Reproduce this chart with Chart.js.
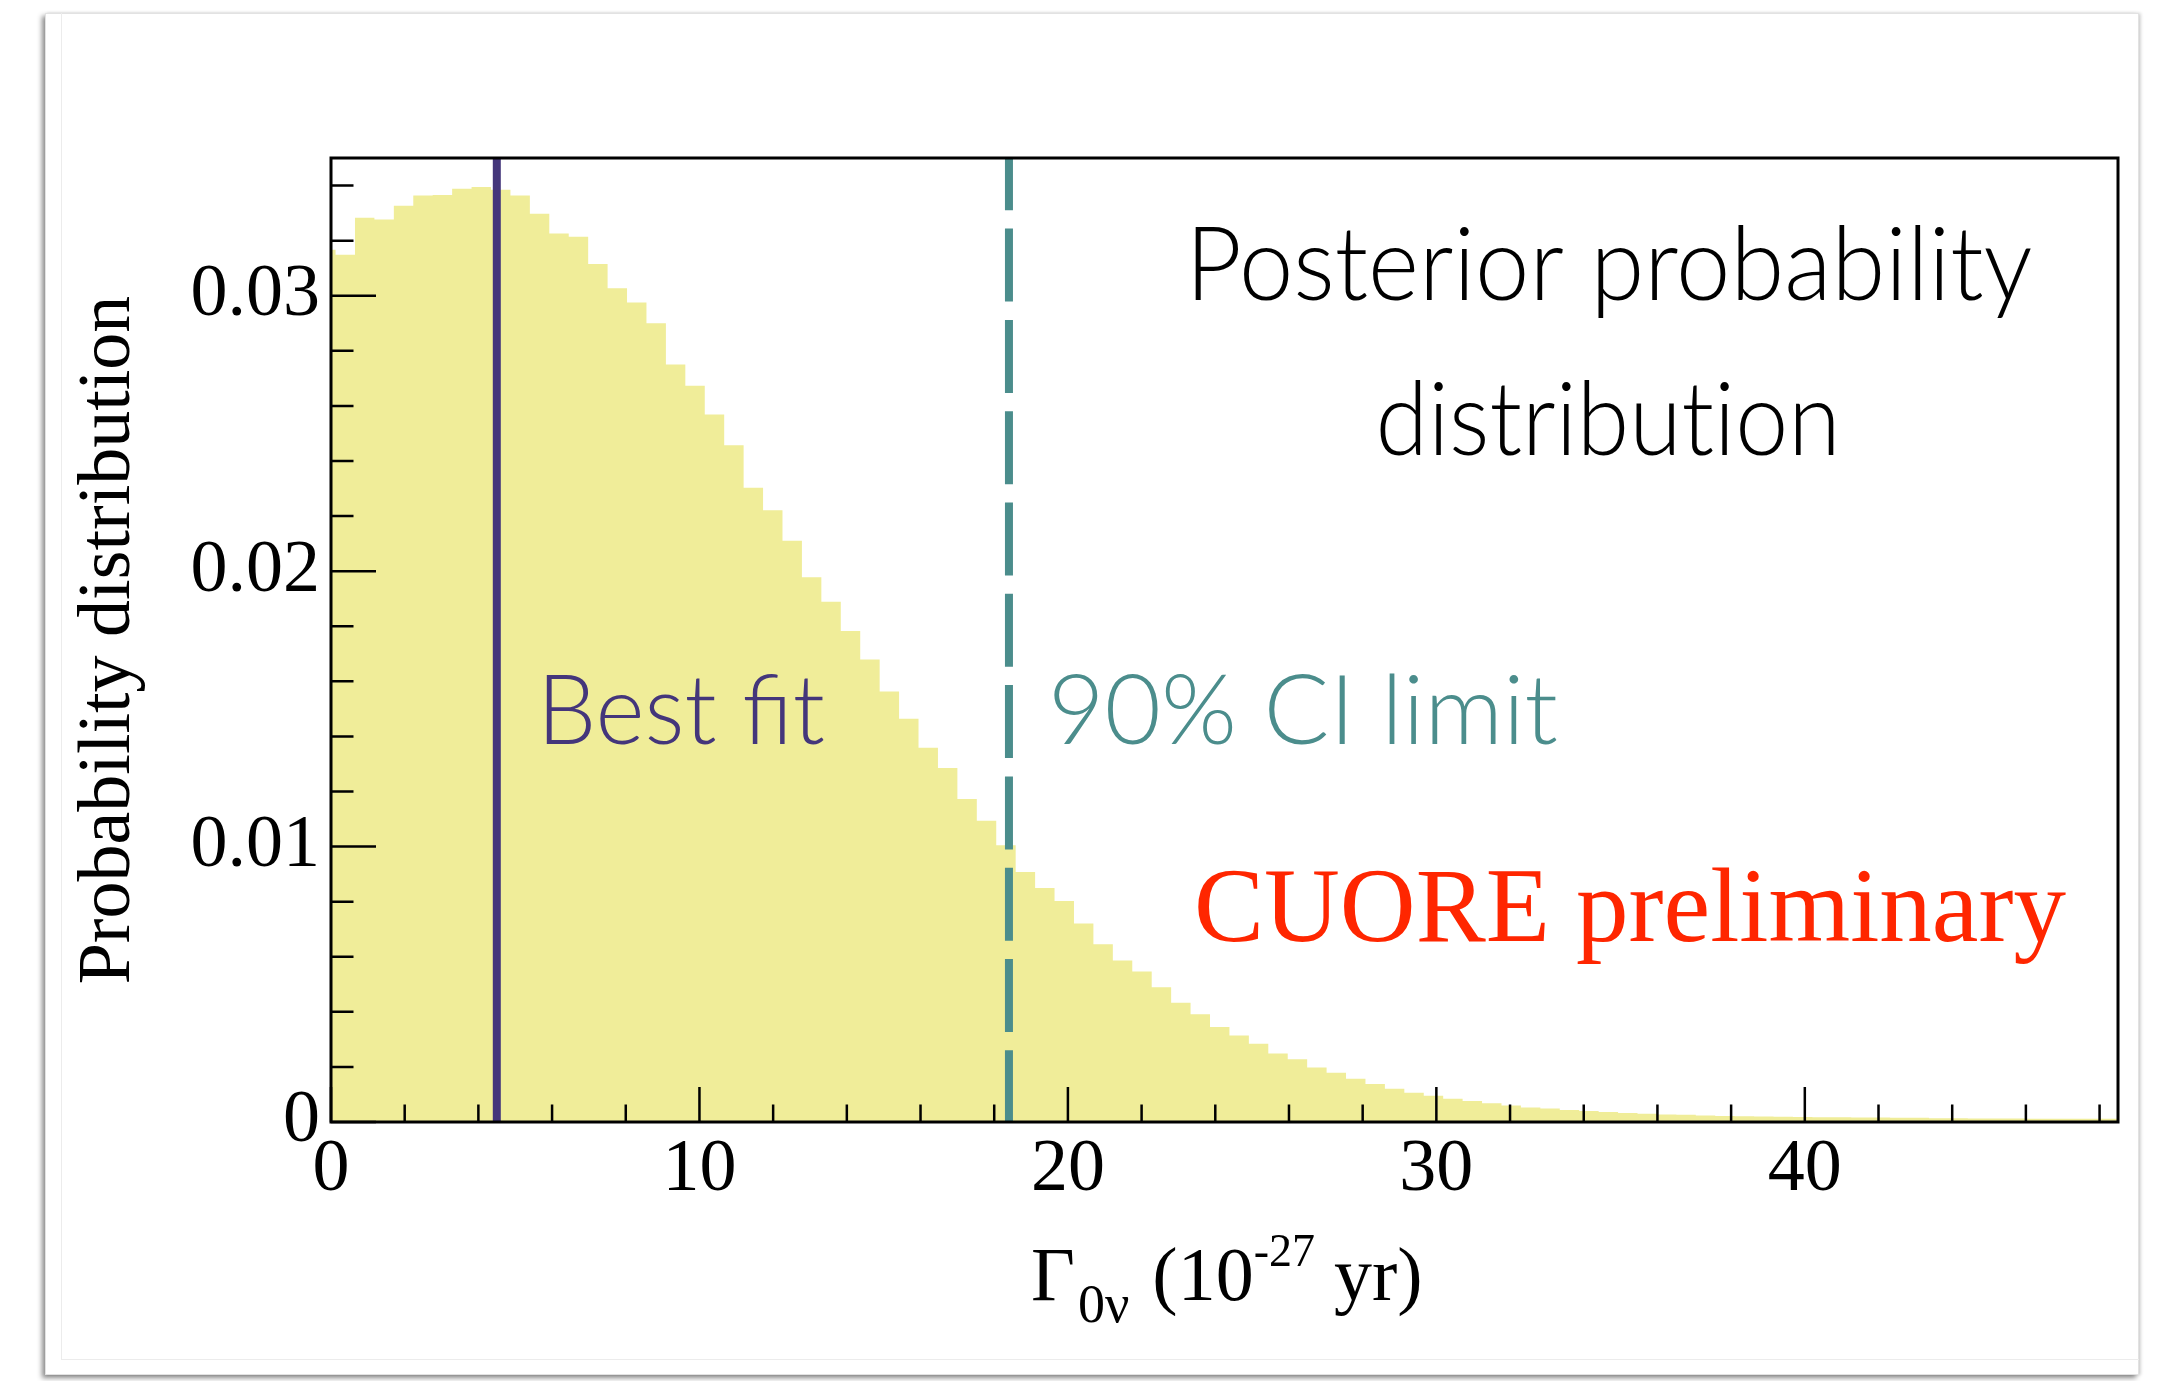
<!DOCTYPE html>
<html>
<head>
<meta charset="utf-8">
<script src="https://cdn.jsdelivr.net/npm/chart.js@4.4.1/dist/chart.umd.min.js"></script>
<style>
  html, body { margin: 0; padding: 0; background: #fff; }
  body { width: 2157px; height: 1381px; position: relative; overflow: hidden; }
  .card {
    position: absolute; left: 45px; top: 13px; width: 2094px; height: 1362px;
    background: #fff; border: 1px solid #e2e2e2; box-sizing: border-box;
    box-shadow: -3px 3px 5px rgba(0,0,0,0.45), 2px 0 3px rgba(0,0,0,0.15);
  }
  .inner {
    position: absolute; left: 61px; top: 13px; width: 2078px; height: 1347px;
    border-left: 1px solid #ececec; border-bottom: 1px solid #ececec; box-sizing: border-box;
  }
  canvas { position: absolute; left: 0; top: 0; }
</style>
</head>
<body>
<div class="card"></div>
<div class="inner"></div>
<canvas id="posteriorChart" width="2157" height="1381"></canvas>
<script>
// posterior of Gamma_0nu; the binning starts below zero so the first bin is cut by the axis
const BIN_START = -0.404;
const BIN_WIDTH = 0.5274;
const posterior = [
  0.03167, 0.03167, 0.03149, 0.03283, 0.03277, 0.03327, 0.03364, 0.03366, 0.03388, 0.03395,
  0.03385, 0.03364, 0.03298, 0.03226, 0.03214, 0.03115, 0.03027, 0.02975, 0.02900, 0.02750,
  0.02673, 0.02569, 0.02457, 0.02303, 0.02221, 0.02110, 0.01978, 0.01889, 0.01783, 0.01679,
  0.01563, 0.01464, 0.01359, 0.01285, 0.01173, 0.01094, 0.01005, 0.00908, 0.00850, 0.00802,
  0.00721, 0.00645, 0.00586, 0.00546, 0.00489, 0.00433, 0.00391, 0.00345, 0.00314, 0.00284,
  0.00249, 0.00228, 0.00198, 0.00179, 0.00157, 0.00138, 0.00121, 0.00106, 0.00095, 0.00084,
  0.00076, 0.00068, 0.00060, 0.00053, 0.00049, 0.00044, 0.00040, 0.00036, 0.00033, 0.00030,
  0.00027, 0.00026, 0.00024, 0.00022, 0.00021, 0.00020, 0.00019, 0.00018, 0.00017, 0.00017,
  0.00016, 0.00016, 0.00015, 0.00015, 0.00014, 0.00014, 0.00013, 0.00013, 0.00013, 0.00012,
  0.00012, 0.00012, 0.00012
];

const BEST_FIT = 4.5;
const CI90_LIMIT = 18.4;

const xTickValues = [0, 10, 20, 30, 40];
const xTickLabels = ["0", "10", "20", "30", "40"];
const yTickValues = [0, 0.01, 0.02, 0.03];
const yTickLabels = ["0", "0.01", "0.02", "0.03"];

const FILL = "#f0ed99";
const PURPLE = "#44367b";
const TEAL = "#4b8d8c";
const RED = "#ff2600";
const SERIF = '"Liberation Serif", "Times New Roman", serif';
const GILL = 'Lato, "Open Sans", sans-serif';

function findLabel(values, labels, v) {
  const i = values.findIndex(t => Math.abs(t - v) < 1e-9);
  return i < 0 ? "" : labels[i];
}

// histogram outline as a stepped line: one point per lower edge, plus the last upper edge
const histPoints = posterior.map((v, i) => ({ x: BIN_START + i * BIN_WIDTH, y: v }));
histPoints.push({ x: BIN_START + posterior.length * BIN_WIDTH, y: posterior[posterior.length - 1] });

// frame and inward ROOT-style ticks
const frameAndTicks = {
  id: "frameAndTicks",
  afterDatasetsDraw(chart) {
    const { ctx, chartArea: a, scales } = chart;
    ctx.save();
    ctx.strokeStyle = "#000";
    ctx.lineWidth = 2.5;
    ctx.beginPath();
    scales.x.ticks.forEach(t => {
      const px = scales.x.getPixelForValue(t.value);
      const major = xTickValues.some(m => Math.abs(m - t.value) < 1e-9);
      ctx.moveTo(px, a.bottom);
      ctx.lineTo(px, a.bottom - (major ? 35 : 17.5));
    });
    scales.y.ticks.forEach(t => {
      const py = scales.y.getPixelForValue(t.value);
      const major = yTickValues.some(m => Math.abs(m - t.value) < 1e-9);
      ctx.moveTo(a.left, py);
      ctx.lineTo(a.left + (major ? 45 : 22.5), py);
    });
    ctx.stroke();
    ctx.lineWidth = 3;
    ctx.strokeRect(a.left, a.top, a.right - a.left, a.bottom - a.top);
    ctx.restore();
  }
};

// text squeezed to the width it has on the slide; parts are drawn one by one so no ligatures form
function drawFitted(ctx, parts, x, y, font, color, width, align) {
  ctx.save();
  ctx.font = font;
  ctx.fillStyle = color;
  ctx.textBaseline = "alphabetic";
  ctx.textAlign = "left";
  const w = parts.reduce((s, p) => s + ctx.measureText(p).width, 0);
  const left = align === "center" ? x - width / 2 : x;
  ctx.translate(left, y);
  ctx.scale(width / w, 1);
  let px = 0;
  parts.forEach(p => {
    ctx.fillText(p, px, 0);
    px += ctx.measureText(p).width;
  });
  ctx.restore();
}

const annotations = {
  id: "annotations",
  afterDraw(chart) {
    const ctx = chart.ctx;

    drawFitted(ctx, ["Posterior probability"], 1609, 300, "300 102px " + GILL, "#000", 847, "center");
    drawFitted(ctx, ["distribut", "ion"], 1608, 455, "300 102px " + GILL, "#000", 465, "center");
    drawFitted(ctx, ["Best fit"], 537, 744, "300 96px " + GILL, PURPLE, 288, "left");
    drawFitted(ctx, ["90% CI limit"], 1048, 744, "300 96px " + GILL, TEAL, 510, "left");

    ctx.save();
    ctx.fillStyle = RED;
    ctx.font = "105px " + SERIF;
    ctx.textBaseline = "alphabetic";
    ctx.fillText("CUORE preliminary", 1194, 941);
    ctx.restore();

    // y axis title
    ctx.save();
    ctx.fillStyle = "#000";
    ctx.font = "74px " + SERIF;
    ctx.textAlign = "center";
    ctx.textBaseline = "alphabetic";
    ctx.translate(129, 640);
    ctx.rotate(-Math.PI / 2);
    ctx.fillText("Probability distribution", 0, 0);
    ctx.restore();

    // x axis title with sub- and superscripts
    ctx.save();
    ctx.fillStyle = "#000";
    ctx.textBaseline = "alphabetic";
    const pieces = [
      { t: "\u0393", size: 76, dy: 0, gap: 3 },
      { t: "0\u03bd", size: 54, dy: 22, gap: 4 },
      { t: " (10", size: 76, dy: 0, gap: 0 },
      { t: "-27", size: 46, dy: -34, gap: 0 },
      { t: " yr)", size: 76, dy: 0, gap: 0 }
    ];
    let x = 1031;
    pieces.forEach(p => {
      ctx.font = p.size + "px " + SERIF;
      ctx.fillText(p.t, x, 1300 + p.dy);
      x += ctx.measureText(p.t).width + p.gap;
    });
    ctx.restore();
  }
};

function makeChart() {
  new Chart(document.getElementById("posteriorChart"), {
    type: "line",
    data: {
      datasets: [
        {
          label: "Best fit",
          data: [{ x: BEST_FIT, y: 0 }, { x: BEST_FIT, y: 0.035 }],
          borderColor: PURPLE,
          borderWidth: 8,
          pointRadius: 0,
          fill: false,
          order: 1
        },
        {
          label: "90% CI limit",
          data: [{ x: CI90_LIMIT, y: 0.035 }, { x: CI90_LIMIT, y: 0 }],
          borderColor: TEAL,
          borderWidth: 8,
          borderDash: [73, 18.3],
          borderDashOffset: 20.7,
          pointRadius: 0,
          fill: false,
          order: 2
        },
        {
          label: "posterior",
          data: histPoints,
          stepped: "after",
          fill: "origin",
          backgroundColor: FILL,
          borderColor: "rgba(0,0,0,0)",
          borderWidth: 1,
          pointRadius: 0,
          order: 3
        }
      ]
    },
    options: {
      responsive: false,
      animation: false,
      devicePixelRatio: 1,
      layout: { padding: { left: 0, top: 158, right: 39, bottom: 0 } },
      plugins: { legend: { display: false }, tooltip: { enabled: false } },
      scales: {
        x: {
          type: "linear",
          min: 0,
          max: 48.5,
          grid: { display: false, drawTicks: false },
          border: { display: false },
          ticks: {
            stepSize: 2,
            includeBounds: false,
            autoSkip: false,
            maxRotation: 0,
            padding: 4,
            color: "#000",
            font: { family: SERIF, size: 74 },
            callback: v => findLabel(xTickValues, xTickLabels, v)
          },
          afterFit: s => { s.height = 259; }
        },
        y: {
          type: "linear",
          min: 0,
          max: 0.035,
          grid: { display: false, drawTicks: false },
          border: { display: false },
          ticks: {
            stepSize: 0.002,
            includeBounds: false,
            autoSkip: false,
            padding: 11,
            color: "#000",
            font: { family: SERIF, size: 74 },
            callback: v => findLabel(yTickValues, yTickLabels, v)
          },
          afterFit: s => { s.width = 331; }
        }
      }
    },
    plugins: [frameAndTicks, annotations]
  });
}

Promise.all([
  document.fonts.load('300 102px Lato'),
  document.fonts.load('74px "Liberation Serif"')
]).then(makeChart, makeChart);
</script>
</body>
</html>
